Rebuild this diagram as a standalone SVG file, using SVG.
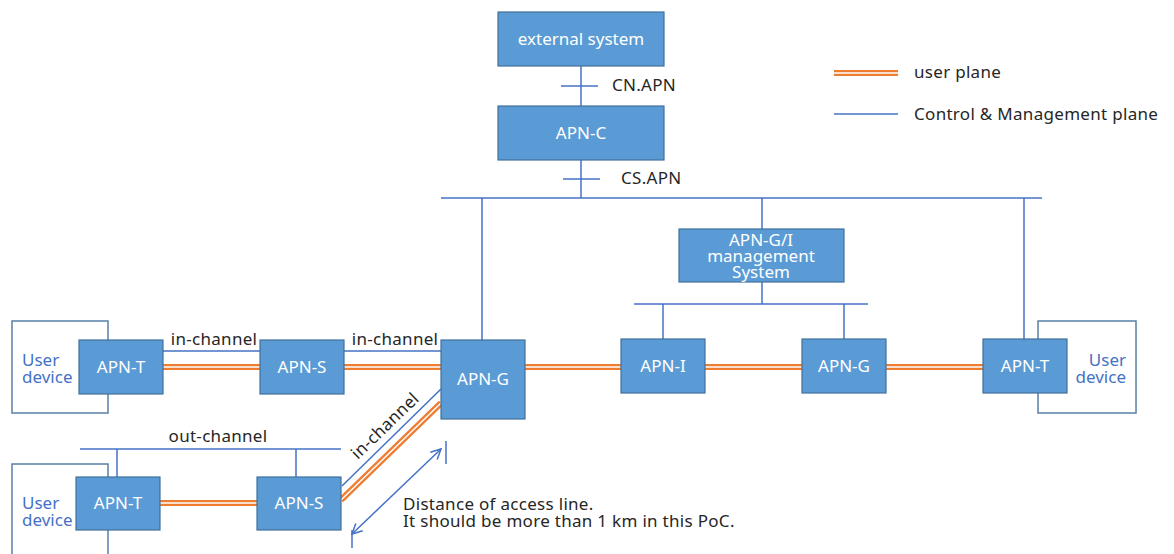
<svg xmlns="http://www.w3.org/2000/svg" width="1174" height="554" viewBox="0 0 1174 554">
<defs>
<style>
.box{fill:#5B9BD5;stroke:#41719C;stroke-width:1.2}
.bt{font-family:"Noto Sans","DejaVu Sans",sans-serif;font-size:17px;fill:#ffffff;text-anchor:middle}
.dev{fill:#ffffff;stroke:#5a7fa8;stroke-width:1.5}
.dt{font-family:"Noto Sans","DejaVu Sans",sans-serif;font-size:17px;fill:#4472C4}
.lbl{font-family:"Noto Sans","DejaVu Sans",sans-serif;font-size:17px;letter-spacing:0.3px;fill:#262626}
.cm{stroke:#4472C4;stroke-width:1.5;fill:none}
.up1{stroke:#ED7D31;stroke-width:6;fill:none}
.up2{stroke:#ffffff;stroke-width:1.5;fill:none}
</style>
<marker id="ah" viewBox="0 0 12 12" refX="11" refY="6" markerWidth="12" markerHeight="12" markerUnits="userSpaceOnUse" orient="auto-start-reverse">
<path d="M1,1 L11,6 L1,11" fill="none" stroke="#4472C4" stroke-width="1.5"/>
</marker>
</defs>

<g id="legend">
<line class="up1" x1="834" y1="73" x2="898" y2="73"/>
<line class="up2" x1="834" y1="73" x2="898" y2="73"/>
<text class="lbl" x="914" y="78">user plane</text>
<line class="cm" x1="834" y1="114" x2="898" y2="114"/>
<text class="lbl" x="914" y="120">Control &amp; Management plane</text>
</g>

<g id="user-devices">
<rect id="ud-left-top" class="dev" x="12" y="321" width="96" height="92"/>
<text class="dt" x="22" y="366">User</text>
<text class="dt" x="22" y="383">device</text>
<rect id="ud-left-bottom" class="dev" x="12" y="464" width="96" height="100"/>
<text class="dt" x="22" y="509">User</text>
<text class="dt" x="22" y="526">device</text>
<rect id="ud-right" class="dev" x="1038" y="321" width="98" height="92"/>
<text class="dt" x="1126" y="366" text-anchor="end">User</text>
<text class="dt" x="1126" y="383" text-anchor="end">device</text>
</g>

<g id="connectors">
<line class="cm" x1="581" y1="66" x2="581" y2="106"/>
<line class="cm" x1="561" y1="86" x2="598" y2="86"/>
<line class="cm" x1="581" y1="160" x2="581" y2="198"/>
<line class="cm" x1="563" y1="179" x2="600" y2="179"/>
<line class="cm" x1="441" y1="198" x2="1042" y2="198"/>
<line class="cm" x1="482" y1="198" x2="482" y2="340"/>
<line class="cm" x1="762" y1="198" x2="762" y2="229"/>
<line class="cm" x1="1024" y1="198" x2="1024" y2="339"/>
<line class="cm" x1="762" y1="282" x2="762" y2="304"/>
<line class="cm" x1="634" y1="304" x2="868" y2="304"/>
<line class="cm" x1="663" y1="304" x2="663" y2="339"/>
<line class="cm" x1="844" y1="304" x2="844" y2="339"/>
<line class="cm" x1="163" y1="351" x2="260" y2="351"/>
<line class="cm" x1="344" y1="351" x2="441" y2="351"/>
<line class="cm" x1="80" y1="449" x2="341" y2="449"/>
<line class="cm" x1="117" y1="449" x2="117" y2="477"/>
<line class="cm" x1="296" y1="449" x2="296" y2="477"/>
<line class="cm" x1="342" y1="486" x2="441" y2="389"/>
<g>
<line class="up1" x1="163" y1="367" x2="260" y2="367"/>
<line class="up1" x1="344" y1="367" x2="441" y2="367"/>
<line class="up1" x1="525" y1="367" x2="621" y2="367"/>
<line class="up1" x1="705" y1="367" x2="802" y2="367"/>
<line class="up1" x1="886" y1="367" x2="983" y2="367"/>
<line class="up1" x1="160" y1="503" x2="257" y2="503"/>
<line class="up1" x1="341" y1="500" x2="441" y2="403"/>
<line class="up2" x1="163" y1="367" x2="260" y2="367"/>
<line class="up2" x1="344" y1="367" x2="441" y2="367"/>
<line class="up2" x1="525" y1="367" x2="621" y2="367"/>
<line class="up2" x1="705" y1="367" x2="802" y2="367"/>
<line class="up2" x1="886" y1="367" x2="983" y2="367"/>
<line class="up2" x1="160" y1="503" x2="257" y2="503"/>
<line class="up2" x1="341" y1="500" x2="441" y2="403"/>
</g>
<line class="cm" x1="446" y1="441" x2="446" y2="464"/>
<line class="cm" x1="352" y1="530" x2="352" y2="548"/>
<line class="cm" x1="352" y1="534" x2="441" y2="449" marker-start="url(#ah)" marker-end="url(#ah)"/>
</g>

<g id="labels">
<text class="lbl" x="214" y="345" text-anchor="middle">in-channel</text>
<text class="lbl" x="395" y="345" text-anchor="middle">in-channel</text>
<text class="lbl" x="218" y="442" text-anchor="middle">out-channel</text>
<text class="lbl" x="0" y="0" text-anchor="middle" transform="translate(389,430) rotate(-44)">in-channel</text>
<text class="lbl" x="612" y="91">CN.APN</text>
<text class="lbl" x="621" y="184">CS.APN</text>
<text class="lbl" x="403" y="510">Distance of access line.</text>
<text class="lbl" x="403" y="527">It should be more than 1 km in this PoC.</text>
</g>

<g id="external-system"><rect class="box" x="498" y="12" width="166" height="54"/><text class="bt" x="581" y="45">external system</text></g>
<g id="apn-c"><rect class="box" x="498" y="106" width="166" height="54"/><text class="bt" x="581" y="139">APN-C</text></g>
<g id="mgmt"><rect class="box" x="679" y="229" width="165" height="53"/>
<text class="bt" x="761" y="246" font-size="15">APN-G/I</text>
<text class="bt" x="761" y="262" font-size="15">management</text>
<text class="bt" x="761" y="278" font-size="15">System</text></g>
<g id="apn-t-left"><rect class="box" x="79" y="340" width="84" height="54"/><text class="bt" x="121" y="373">APN-T</text></g>
<g id="apn-s-top"><rect class="box" x="260" y="340" width="84" height="54"/><text class="bt" x="302" y="373">APN-S</text></g>
<g id="apn-g-left"><rect class="box" x="441" y="340" width="84" height="79"/><text class="bt" x="483" y="385">APN-G</text></g>
<g id="apn-i"><rect class="box" x="621" y="339" width="84" height="54"/><text class="bt" x="663" y="372">APN-I</text></g>
<g id="apn-g-right"><rect class="box" x="802" y="339" width="84" height="54"/><text class="bt" x="844" y="372">APN-G</text></g>
<g id="apn-t-right"><rect class="box" x="983" y="339" width="84" height="54"/><text class="bt" x="1025" y="372">APN-T</text></g>
<g id="apn-t-bottom"><rect class="box" x="76" y="477" width="84" height="53"/><text class="bt" x="118" y="509">APN-T</text></g>
<g id="apn-s-bottom"><rect class="box" x="257" y="477" width="84" height="53"/><text class="bt" x="299" y="509">APN-S</text></g>
</svg>
